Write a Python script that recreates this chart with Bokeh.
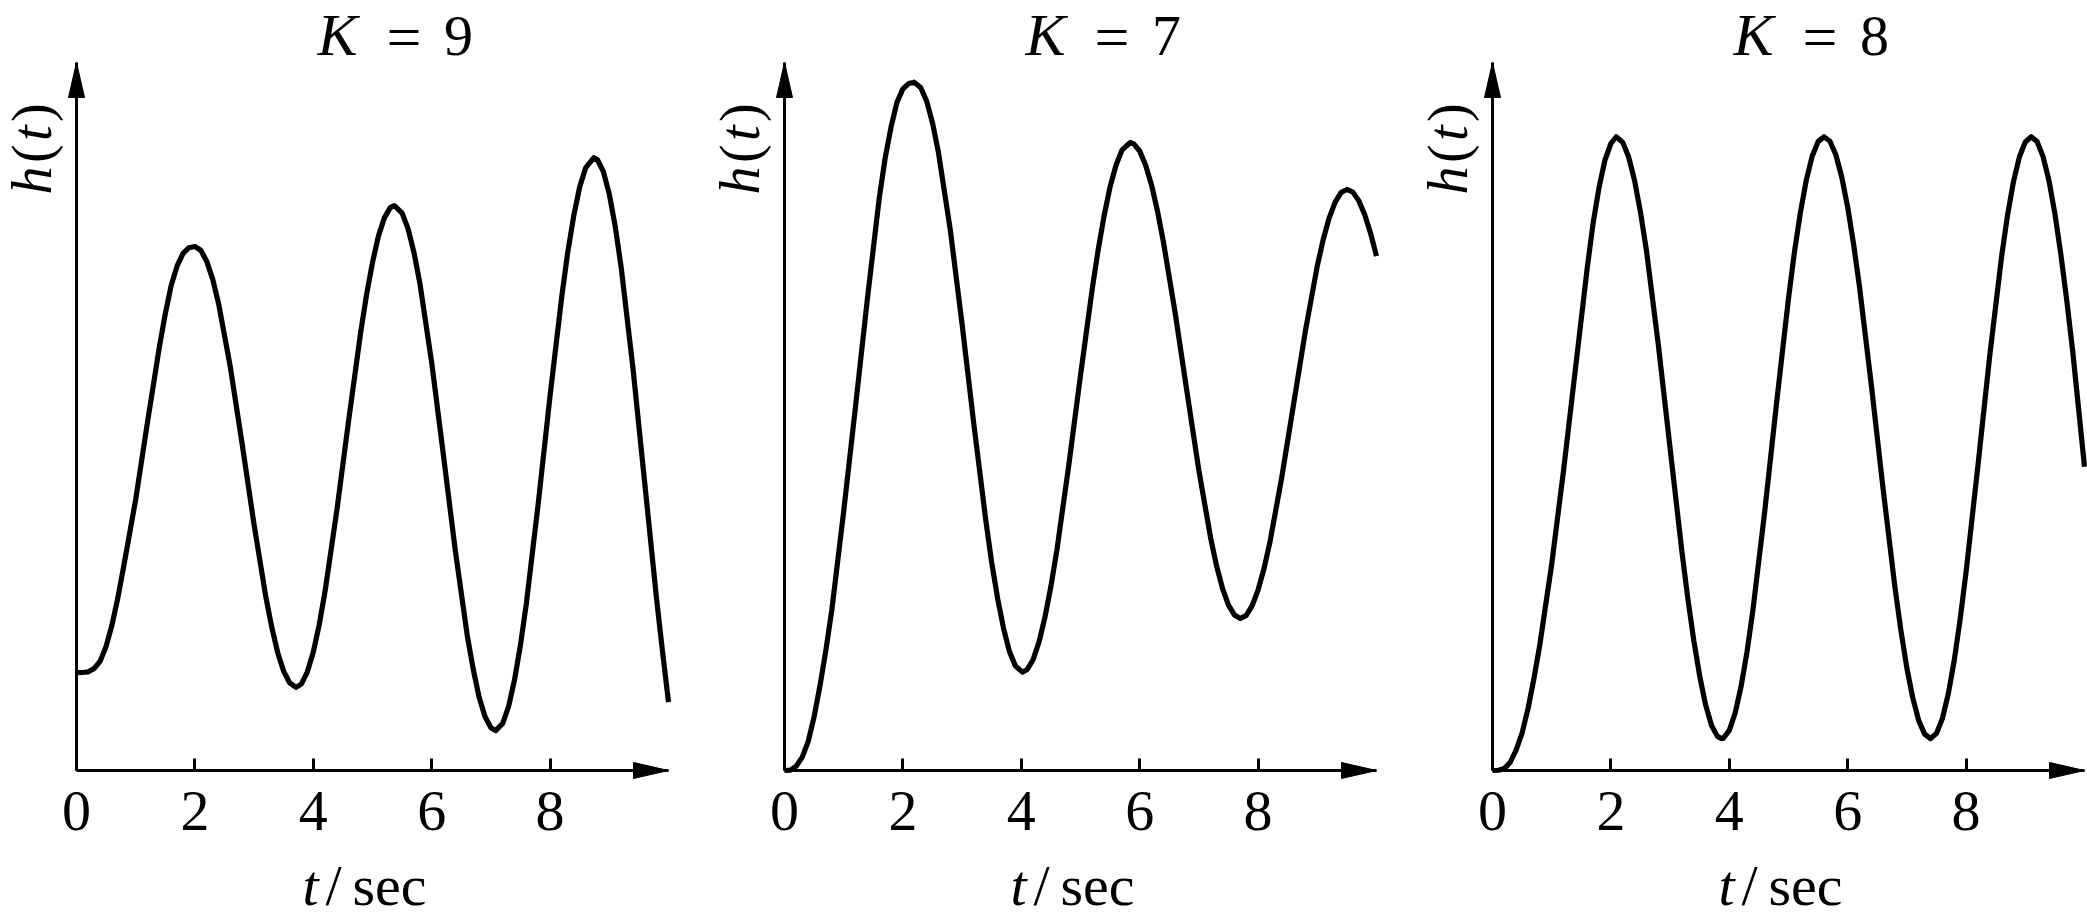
import math
from bokeh.plotting import figure
from bokeh.layouts import row
from bokeh.models import Range1d, FixedTicker, Label
from bokeh.embed import file_html
from bokeh.resources import INLINE

# ---------------- data ----------------
K_VALUES = [9, 7, 8]
X_TICKS = [0, 2, 4, 6, 8]
TICK_LABELS = ["0", "2", "4", "6", "8"]
T_END = 10.0

T_K9 = [0, 0.1, 0.2, 0.3, 0.4, 0.5, 0.6, 0.7, 0.8, 0.9, 1.0, 1.2, 1.4, 1.5, 1.6, 1.7,
        1.8, 1.9, 2.0, 2.1, 2.2, 2.3, 2.4, 2.6, 2.8, 3.0, 3.2, 3.3, 3.4, 3.5, 3.6, 3.71,
        3.8, 3.9, 4.0, 4.1, 4.2, 4.4, 4.6, 4.8, 4.9, 5.0, 5.1, 5.2, 5.3, 5.37, 5.5, 5.6,
        5.7, 5.8, 6.0, 6.2, 6.4, 6.6, 6.7, 6.8, 6.9, 7.0, 7.08, 7.2, 7.3, 7.4, 7.5, 7.6,
        7.8, 8.0, 8.2, 8.3, 8.4, 8.5, 8.6, 8.74, 8.8, 8.9, 9.0, 9.1, 9.2, 9.4, 9.6, 9.8,
        9.9, 10.0]
H_K9 = [0, 0.0003, 0.003, 0.018, 0.05, 0.115, 0.21, 0.33, 0.47, 0.615, 0.76, 1.10, 1.43,
        1.575, 1.70, 1.785, 1.84, 1.865, 1.87, 1.854, 1.805, 1.727, 1.620, 1.339, 1.000,
        0.648, 0.329, 0.197, 0.086, 0.005, -0.045, -0.065, -0.050, 0.003, 0.090, 0.210,
        0.359, 0.716, 1.112, 1.493, 1.659, 1.800, 1.916, 1.996, 2.041, 2.05, 2.017, 1.949,
        1.845, 1.709, 1.360, 0.950, 0.533, 0.164, 0.016, -0.107, -0.193, -0.242, -0.255,
        -0.223, -0.148, -0.031, 0.122, 0.305, 0.743, 1.216, 1.657, 1.848, 2.006, 2.132,
        2.215, 2.26, 2.251, 2.199, 2.100, 1.959, 1.780, 1.336, 0.828, 0.32, 0.09, -0.13]

T_K7 = [0, 0.1, 0.2, 0.3, 0.4, 0.5, 0.6, 0.7, 0.8, 1.0, 1.2, 1.4, 1.6, 1.7, 1.8, 1.9,
        2.0, 2.1, 2.19, 2.3, 2.4, 2.5, 2.6, 2.8, 3.0, 3.2, 3.4, 3.5, 3.6, 3.7, 3.8, 3.9,
        4.02, 4.1, 4.2, 4.3, 4.4, 4.5, 4.6, 4.8, 5.0, 5.2, 5.3, 5.4, 5.5, 5.6, 5.7, 5.84,
        5.9, 6.0, 6.1, 6.2, 6.3, 6.4, 6.6, 6.8, 7.0, 7.2, 7.3, 7.4, 7.5, 7.6, 7.7, 7.8,
        7.9, 8.0, 8.1, 8.2, 8.4, 8.6, 8.8, 9.0, 9.1, 9.2, 9.3, 9.4, 9.5, 9.6, 9.7, 9.8,
        9.9, 10.0]
H_K7 = [0, 0.001, 0.01, 0.03, 0.065, 0.12, 0.19, 0.27, 0.36, 0.58, 0.815, 1.055, 1.28,
        1.37, 1.44, 1.495, 1.525, 1.537, 1.54, 1.528, 1.498, 1.449, 1.383, 1.21, 0.998,
        0.773, 0.560, 0.465, 0.385, 0.318, 0.266, 0.234, 0.22, 0.226, 0.248, 0.288, 0.343,
        0.412, 0.492, 0.681, 0.884, 1.079, 1.166, 1.242, 1.306, 1.354, 1.388, 1.405, 1.402,
        1.386, 1.354, 1.310, 1.252, 1.183, 1.023, 0.846, 0.671, 0.519, 0.457, 0.407, 0.370,
        0.348, 0.34, 0.347, 0.369, 0.404, 0.452, 0.511, 0.656, 0.82, 0.984, 1.129, 1.188,
        1.236, 1.271, 1.293, 1.30, 1.294, 1.275, 1.244, 1.202, 1.151]

T_K8 = [0, 0.1, 0.2, 0.3, 0.4, 0.5, 0.6, 0.7, 0.8, 1.0, 1.2, 1.4, 1.6, 1.7, 1.8, 1.9,
        2.0, 2.09, 2.2, 2.3, 2.4, 2.5, 2.6, 2.8, 3.0, 3.2, 3.3, 3.4, 3.5, 3.6, 3.7, 3.8,
        3.87, 3.9, 4.0, 4.1, 4.2, 4.3, 4.4, 4.6, 4.8, 5.0, 5.1, 5.2, 5.3, 5.4, 5.5, 5.6,
        5.7, 5.8, 5.9, 6.0, 6.1, 6.2, 6.4, 6.6, 6.8, 6.9, 7.0, 7.1, 7.2, 7.3, 7.4, 7.5,
        7.6, 7.7, 7.8, 7.9, 8.0, 8.2, 8.4, 8.6, 8.7, 8.8, 8.9, 9.0, 9.1, 9.2, 9.3, 9.4,
        9.5, 9.6, 9.7, 9.8, 9.9, 10.0]
H_K8 = [0, 0.0006, 0.005, 0.022, 0.055, 0.10, 0.165, 0.245, 0.336, 0.55, 0.80, 1.07,
        1.34, 1.46, 1.555, 1.628, 1.672, 1.69, 1.675, 1.636, 1.573, 1.489, 1.387, 1.137,
        0.859, 0.583, 0.458, 0.347, 0.252, 0.175, 0.120, 0.091, 0.085, 0.086, 0.107, 0.154,
        0.225, 0.317, 0.429, 0.693, 0.982, 1.259, 1.382, 1.487, 1.574, 1.638, 1.677, 1.69,
        1.678, 1.642, 1.582, 1.502, 1.403, 1.289, 1.027, 0.748, 0.486, 0.372, 0.273, 0.193,
        0.133, 0.097, 0.085, 0.099, 0.139, 0.205, 0.294, 0.404, 0.530, 0.813, 1.107, 1.371,
        1.481, 1.570, 1.636, 1.676, 1.69, 1.677, 1.637, 1.573, 1.485, 1.377, 1.254, 1.119,
        0.965, 0.81]

SERIES_T = [T_K9, T_K7, T_K8]
SERIES_H = [H_K9, H_K7, H_K8]

# ---------------- layout / style ----------------
FONT = "Liberation Serif"
FS = 58                # main text size, px
PX_X = 59.2            # pixels per second on the t axis
FIG_W = [708, 708, 671]
FIG_H = 923
OX = 76                # px from each figure's left edge to its y axis
AXIS_Y = 153           # px from the figure's bottom edge to the t axis
AXIS_H = 708           # px length of the y axis up to its arrow tip
Y_LIMITS = [(-0.43, 2.678), (0.0, 1.584), (0.0, 1.888)]
HEAD_LEN = 35
HEAD_HALF = 8
BASE_SHIFT = 0.36      # Label baseline correction, in em


def txt(p, x, y, s, italic=False, align="left", rotated=False, size=FS):
    corr = BASE_SHIFT * size
    if rotated:
        x, y, ang = x - corr, y, math.pi / 2
    else:
        x, y, ang = x, y + corr, 0.0
    p.add_layout(Label(x=x, y=y, x_units="screen", y_units="screen", text=s,
                       text_font=FONT, text_font_size=f"{size}px",
                       text_font_style="italic" if italic else "normal",
                       text_color="black", text_align=align,
                       text_baseline="alphabetic", angle=ang))


figs = []
for k, t, h, (y0, ytop), W in zip(K_VALUES, SERIES_T, SERIES_H, Y_LIMITS, FIG_W):
    s = AXIS_H / (ytop - y0)
    xs0 = -OX / PX_X
    ys0 = y0 - AXIS_Y / s
    p = figure(frame_width=W, frame_height=FIG_H,
               x_range=Range1d(xs0, xs0 + W / PX_X),
               y_range=Range1d(ys0, ys0 + FIG_H / s),
               min_border=0, min_border_left=0, min_border_right=0,
               min_border_top=0, min_border_bottom=0,
               output_backend="svg", toolbar_location=None, tools="")
    p.outline_line_color = None
    p.background_fill_color = "white"
    p.border_fill_color = "white"
    p.xgrid.visible = False
    p.ygrid.visible = False

    xa = p.xaxis[0]
    xa.fixed_location = y0
    xa.bounds = (0, T_END)
    xa.ticker = FixedTicker(ticks=X_TICKS)
    xa.major_label_overrides = {tk: lb for tk, lb in zip(X_TICKS, TICK_LABELS)}
    xa.minor_tick_line_color = None
    xa.major_tick_in = 12
    xa.major_tick_out = 0
    xa.major_tick_line_width = 3
    xa.axis_line_width = 3
    xa.major_label_standoff = 21
    xa.major_label_text_font = FONT
    xa.major_label_text_font_size = f"{FS}px"
    xa.major_label_text_color = "black"

    ya = p.yaxis[0]
    ya.fixed_location = 0
    ya.bounds = (y0, ytop)
    ya.ticker = FixedTicker(ticks=[])
    ya.minor_tick_line_color = None
    ya.major_tick_line_color = None
    ya.major_label_text_font_size = "0px"
    ya.axis_line_width = 3

    # arrow heads on both axes
    hx = HEAD_LEN / PX_X
    hy = HEAD_LEN / s
    p.patches(xs=[[T_END, T_END - hx, T_END - hx], [0, -HEAD_HALF / PX_X, HEAD_HALF / PX_X]],
              ys=[[y0, y0 + HEAD_HALF / s, y0 - HEAD_HALF / s], [ytop, ytop - hy, ytop - hy]],
              fill_color="black", line_color="black", line_width=1)

    # response curve
    p.line(t, h, line_width=5.2, line_color="black", line_join="round")

    # title  K = n  (kept fully inside the canvas)
    txt(p, OX + 241, 867, "K", italic=True, size=60)
    txt(p, OX + 327.5, 864, "=", align="center", size=62)
    txt(p, OX + 382, 867, str(k), align="center")

    # y label h(t), rotated
    bx = OX - 24
    txt(p, bx, 729, "h", italic=True, rotated=True, size=56)
    txt(p, bx, 760.5, "(", rotated=True, size=56)
    txt(p, bx, 782.5, "t", italic=True, rotated=True, size=56)
    txt(p, bx, 801.5, ")", rotated=True, size=56)

    # x label t/sec
    txt(p, OX + 226, 17, "t", italic=True)
    txt(p, OX + 257, 17, "/", align="center")
    txt(p, OX + 276, 17, "sec")

    figs.append(p)

layout = row(*figs, spacing=0)
open("out.html", "w").write(file_html(layout, INLINE))
